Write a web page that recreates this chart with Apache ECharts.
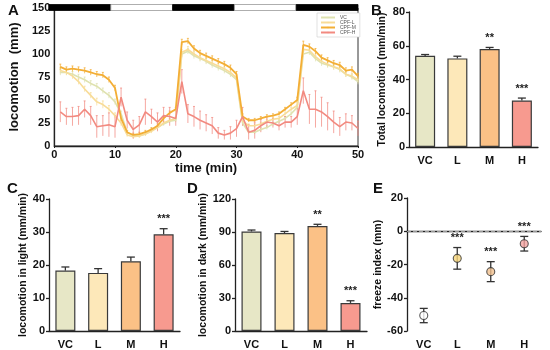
<!DOCTYPE html>
<html><head><meta charset="utf-8">
<script src="https://cdn.jsdelivr.net/npm/echarts@6/dist/echarts.min.js"></script>
<style>html,body{margin:0;padding:0;background:#fff}#c{width:550px;height:350px}</style>
</head><body><div id="c"></div>
<script>
// ---------- Panel A data ----------
const timeMin = [1,2,3,4,5,6,7,8,9,10,11,12,13,14,15,16,17,18,19,20,21,22,23,24,25,26,27,28,29,30,31,32,33,34,35,36,37,38,39,40,41,42,43,44,45,46,47,48,49,50];
const seriesNames = ['VC','CPF-L','CPF-M','CPF-H'];
const locoVC = [80,80,78,75,72,68,65,60,55,48,35,15,11,11,13,17,20,24,27,28,100,103,98,95,92,88,85,82,78,72,25,15,15,18,20,24,27,30,35,42,100,102,95,90,88,86,83,78,75,70];
const locoL  = [82,80,76,70,62,55,48,45,40,33,25,12,10,11,13,16,20,25,28,30,102,105,100,96,93,90,87,84,80,74,27,22,22,24,27,29,30,35,40,44,105,104,97,92,89,86,84,78,76,72];
const locoM  = [86,83,84,83,82,80,78,77,72,63,30,15,12,13,15,18,22,30,36,40,113,114,106,101,98,95,92,89,85,78,32,28,28,30,32,33,35,40,45,50,110,108,103,96,93,90,88,82,83,76];
const locoH  = [37,32,32,33,40,33,21,22,23,21,53,28,18,23,37,32,26,33,32,30,70,35,32,28,25,22,14,12,14,19,32,15,17,22,26,25,22,26,26,32,60,40,40,37,32,26,21,26,25,19];
const errVC = [3,3,3,3,3,3,3,3,3,3,3,2,2,2,2,2,2,2,2,2,3,3,3,3,3,3,3,3,3,3,3,2,2,2,2,2,2,2,2,3,3,3,3,3,3,3,3,3,3,3];
const errL  = [3,3,3,3,3,3,4,4,4,3,3,2,2,2,2,2,2,2,2,2,3,3,3,3,3,3,3,3,3,3,3,2,2,2,2,2,2,2,2,3,4,3,3,3,3,3,3,3,3,3];
const errM  = [3,3,3,3,3,3,3,3,3,3,3,2,2,2,2,2,2,2,2,2,3,3,3,3,3,3,3,3,3,3,3,2,2,2,2,2,2,2,2,3,4,3,3,3,3,3,3,3,3,3];
const errH  = [11,9,10,10,9,10,12,11,13,12,10,9,10,9,14,8,10,9,10,8,13,10,11,10,9,9,6,5,7,9,10,8,9,7,6,5,5,6,6,9,14,16,20,16,15,12,10,9,8,8];
const phaseStart = [0,10,20,30,40];
const phaseEnd   = [10,20,30,40,50];
const phaseDark  = [1,0,1,0,1];

// ---------- Panels B-E data ----------
const groups = ['VC','L','M','H'];
const totalLoco = [54,52.5,58,27.5];
const totalErr  = [0.8,1.3,1.0,1.5];
const totalStars = ['','','**','***'];
const lightLoco = [18.3,17.6,21.1,29.3];
const lightErr  = [1.1,1.3,1.3,1.7];
const lightStars = ['','','','***'];
const darkLoco = [90.5,89,95.5,25.5];
const darkErr  = [1.3,1.5,1.5,2.0];
const darkStars = ['','','**','***'];
const freezeIdx = [-50.7,-16.3,-24.3,-7.5];
const freezeErr = [4.3,6.5,6.0,4.4];
const freezeStars = ['','***','***','***'];

const lineColors = ['#dfe2b0','#f8dc98','#f3ae35','#f28a80'];
const barColors = ['#e7e7c6','#fde8b9','#fbc186','#f79a8f'];
const dotColors = ['#ffffff','#f7d67a','#f1c18e','#f2a3a0'];
const FONT = 'Liberation Sans, Arial, sans-serif';
const AX = '#222';

const chart = echarts.init(document.getElementById('c'), null, {renderer:'canvas'});

function lineErr(idx, ys, es, color) {
  return {
    type:'custom', xAxisIndex:0, yAxisIndex:0, silent:true, z: 2,
    data: timeMin.map((t,i)=>[t, ys[i], es[i]]),
    renderItem:(p, api)=>{
      const x=api.value(0), y=api.value(1), e=api.value(2);
      const a=api.coord([x,y-e]), b=api.coord([x,y+e]);
      return {type:'group', children:[
        {type:'line', shape:{x1:a[0],y1:a[1],x2:b[0],y2:b[1]}, style:{stroke:color, lineWidth:1, opacity:0.75}},
        {type:'line', shape:{x1:b[0]-1,y1:b[1],x2:b[0]+1,y2:b[1]}, style:{stroke:color, lineWidth:1, opacity:0.75}}
      ]};
    }
  };
}

function barErr(ai, vals, errs, stars, both) {
  return {
    type:'custom', xAxisIndex:ai, yAxisIndex:ai, silent:true, z: 5,
    data: groups.map((g,i)=>[i, vals[i], errs[i]]),
    renderItem:(p, api)=>{
      const x=api.value(0), v=api.value(1), e=api.value(2);
      const top=api.coord([x,v+e]);
      const base= both ? api.coord([x,v-e]) : api.coord([x,v]);
      const ch=[
        {type:'line', shape:{x1:top[0],y1:top[1],x2:base[0],y2:base[1]}, style:{stroke:'#333', lineWidth:1.3}},
        {type:'line', shape:{x1:top[0]-4,y1:top[1],x2:top[0]+4,y2:top[1]}, style:{stroke:'#333', lineWidth:1.3}}
      ];
      if (both) ch.push({type:'line', shape:{x1:base[0]-4,y1:base[1],x2:base[0]+4,y2:base[1]}, style:{stroke:'#333', lineWidth:1.3}});
      const s = stars[p.dataIndex];
      if (s) ch.push({type:'text', style:{text:s, x:top[0], y:top[1]-4, align:'center', verticalAlign:'bottom', font:'bold 11px '+FONT, fill:'#222'}});
      return {type:'group', children:ch};
    }
  };
}

function catX(gi, show) {
  return {type:'category', gridIndex:gi, data:groups,
    axisLine:{lineStyle:{color:AX, width:1.3}}, axisTick:{show:false},
    axisLabel:{fontSize:11, fontWeight:'bold', color:'#111', fontFamily:FONT, margin:8}};
}
function valY(gi, min, max, interval, name, gap) {
  return {type:'value', gridIndex:gi, min, max, interval, name, nameLocation:'middle', nameGap:gap, nameRotate:90,
    nameTextStyle:{fontSize:10.5, fontWeight:'bold', color:'#111', fontFamily:FONT},
    axisLine:{show:true, lineStyle:{color:AX, width:1.3}}, axisTick:{show:true, length:3, lineStyle:{color:AX,width:1.3}},
    splitLine:{show:false},
    axisLabel:{fontSize:11, fontWeight:'bold', color:'#111', fontFamily:FONT, margin:4}};
}
function bars(ai, vals) {
  return {type:'bar', xAxisIndex:ai, yAxisIndex:ai, barWidth:20, z:3,
    data: vals.map((v,i)=>({value:v, itemStyle:{color:barColors[i]}})),
    itemStyle:{borderColor:'#3a3a3a', borderWidth:1.2}};
}

const option = {
  animation:false,
  textStyle:{fontFamily:FONT},
  grid:[
    {left:49, top:8, width:309, height:138, show:true, borderColor:'#333', borderWidth:1, backgroundColor:'transparent'},   // 0 A
    {left:49, top:4.5, width:309, height:6},   // 1 light/dark bar
    {left:409, top:12, width:129, height:135}, // 2 B
    {left:49, top:199, width:131, height:133}, // 3 C
    {left:235, top:199, width:132, height:133},// 4 D
    {left:407, top:198, width:134, height:133} // 5 E
  ],
  legend:{
    data:seriesNames, left:317, top:13, orient:'vertical', itemWidth:14, itemHeight:2, itemGap:0,
    padding:[2,4,2,3], borderColor:'#cfcfcf', borderWidth:0.6, backgroundColor:'#fff',
    textStyle:{fontSize:5, color:'#555', fontFamily:FONT}
  },
  xAxis:[
    {type:'value', gridIndex:0, min:0, max:50, interval:10, name:'time (min)', nameLocation:'middle', nameGap:16,
      nameTextStyle:{fontSize:13, fontWeight:'bold', color:'#111', fontFamily:FONT},
      axisLine:{lineStyle:{color:AX,width:1.3}}, axisTick:{length:2,lineStyle:{color:AX}}, splitLine:{show:false},
      axisLabel:{fontSize:11, fontWeight:'bold', color:'#111', margin:3, fontFamily:FONT}},
    {type:'value', gridIndex:1, min:0, max:50, show:false},
    catX(2), catX(3), catX(4), catX(5)
  ],
  yAxis:[
    {type:'value', gridIndex:0, min:0, max:150, interval:25, name:'locomotion  (mm)', nameLocation:'middle', nameGap:23, nameRotate:90,
      nameTextStyle:{fontSize:13, fontWeight:'bold', color:'#111', fontFamily:FONT},
      axisLine:{show:true, lineStyle:{color:AX,width:1.3}}, axisTick:{show:false}, splitLine:{show:false},
      axisLabel:{fontSize:11, fontWeight:'bold', color:'#111', margin:4, fontFamily:FONT}},
    {type:'value', gridIndex:1, min:0, max:1, show:false},
    valY(2, 0, 80, 20, 'Total locomotion (mm/min)', 21),
    valY(3, 0, 40, 10, 'locomotion in light (mm/min)', 19),
    valY(4, 0, 120, 30, 'locomotion in dark (mm/min)', 24),
    valY(5, -60, 20, 20, 'freeze index (mm)', 23)
  ],
  graphic:[
    {type:'text', left:8, top:3, style:{text:'A', font:'bold 15px '+FONT, fill:'#111'}},
    {type:'text', left:371, top:3, style:{text:'B', font:'bold 15px '+FONT, fill:'#111'}},
    {type:'text', left:7, top:181, style:{text:'C', font:'bold 15px '+FONT, fill:'#111'}},
    {type:'text', left:187, top:181, style:{text:'D', font:'bold 15px '+FONT, fill:'#111'}},
    {type:'text', left:373, top:181, style:{text:'E', font:'bold 15px '+FONT, fill:'#111'}}
  ],
  series:[
    // light/dark bar
    {type:'custom', xAxisIndex:1, yAxisIndex:1, silent:true,
      data: phaseStart.map((s,i)=>[s, phaseEnd[i], phaseDark[i]]),
      renderItem:(p, api)=>{
        const a=api.coord([api.value(0),1]), b=api.coord([api.value(1),0]);
        const dark=api.value(2)===1;
        return {type:'rect', shape:{x:a[0], y:a[1], width:b[0]-a[0], height:b[1]-a[1]},
          style:{fill: dark?'#000':'#fff', stroke: dark?'#000':'#999', lineWidth:0.8}};
      }},
    lineErr(0, locoVC, errVC, lineColors[0]),
    lineErr(1, locoL, errL, lineColors[1]),
    lineErr(2, locoM, errM, lineColors[2]),
    lineErr(3, locoH, errH, lineColors[3]),
    {name:'VC', type:'line', xAxisIndex:0, yAxisIndex:0, symbol:'none', z:3, data:timeMin.map((t,i)=>[t,locoVC[i]]), lineStyle:{color:lineColors[0], width:1.6}, itemStyle:{color:lineColors[0]}},
    {name:'CPF-L', type:'line', xAxisIndex:0, yAxisIndex:0, symbol:'none', z:3, data:timeMin.map((t,i)=>[t,locoL[i]]), lineStyle:{color:lineColors[1], width:1.6}, itemStyle:{color:lineColors[1]}},
    {name:'CPF-M', type:'line', xAxisIndex:0, yAxisIndex:0, symbol:'none', z:3, data:timeMin.map((t,i)=>[t,locoM[i]]), lineStyle:{color:lineColors[2], width:1.8}, itemStyle:{color:lineColors[2]}},
    {name:'CPF-H', type:'line', xAxisIndex:0, yAxisIndex:0, symbol:'none', z:4, data:timeMin.map((t,i)=>[t,locoH[i]]), lineStyle:{color:lineColors[3], width:1.6}, itemStyle:{color:lineColors[3]}},
    // B
    bars(2, totalLoco), barErr(2, totalLoco, totalErr, totalStars, false),
    // C
    bars(3, lightLoco), barErr(3, lightLoco, lightErr, lightStars, false),
    // D
    bars(4, darkLoco), barErr(4, darkLoco, darkErr, darkStars, false),
    // E
    barErr(5, freezeIdx, freezeErr, freezeStars, true),
    {type:'scatter', xAxisIndex:5, yAxisIndex:5, symbolSize:8, z:6,
      data: freezeIdx.map((v,i)=>({value:[i,v], itemStyle:{color:dotColors[i]}})),
      itemStyle:{borderColor:'#333', borderWidth:1.1},
      markLine:{silent:true, symbol:'none', label:{show:false}, data:[{yAxis:0}], lineStyle:{type:'dashed', color:'#999', width:1}}}
  ]
};
chart.setOption(option);
</script>
</body></html>
